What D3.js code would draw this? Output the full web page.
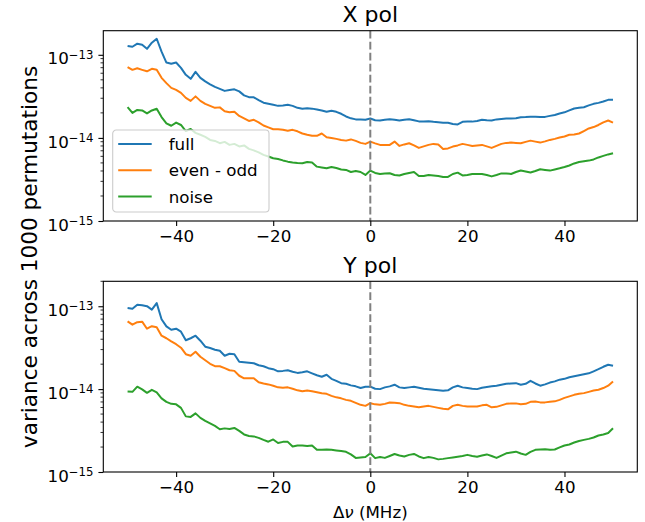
<!DOCTYPE html>
<meta charset="utf-8">
<style>
body { margin: 0; background: #fff; }
svg { font-family: "DejaVu Sans", sans-serif; }
.line { fill: none; stroke-width: 2px; stroke-linejoin: round; }
.zero { stroke: #808080; stroke-width: 2px; stroke-dasharray: 7.7,3.3; }
.frame { fill: none; stroke: #000; stroke-width: 1.1px; }
</style>
<body>
<script src="https://d3js.org/d3.v7.min.js"></script>
<script>
// channel offset from band centre, MHz
var freq = d3.range(-50, 51);

// variance across 1000 permutations, in units of 1e-15
var xFull = [128, 125, 136, 132, 118, 140, 156, 109, 80.7, 77.9,
  80.7, 69.7, 57.4, 51.4, 62.4, 52.8, 47.9, 44.2, 41.1, 38.9,
  36.8, 37.8, 38.4, 36.3, 32.5, 30.9, 30.8, 28.5, 26.5, 25.7,
  25.0, 24.3, 24.6, 25.0, 24.3, 23.0, 22.4, 22.8, 22.5, 22.0,
  21.4, 20.6, 21.2, 20.6, 19.5, 18.1, 17.2, 16.7, 16.7, 16.5,
  17.1,
  16.3, 16.2, 16.5, 16.8, 16.5, 16.2, 16.5, 16.8, 16.3, 15.8,
  15.8, 15.9, 15.6, 15.4, 15.2, 15.2, 14.7, 14.5, 15.6, 15.7,
  15.7, 16.0, 16.5, 16.3, 16.2, 16.7, 16.9, 17.1, 17.1, 17.2,
  17.7, 17.8, 18.0, 18.0, 17.8, 17.9, 18.4, 18.9, 19.7, 20.3,
  21.4, 22.6, 23.0, 23.4, 24.6, 25.7, 26.4, 27.4, 28.7, 28.7];
var xEvenOdd = [71.1, 65.9, 68.8, 65.9, 63.3, 67.8, 65.9, 52.8, 45.6, 40.0,
  37.8, 34.8, 30.3, 27.9, 31.6, 27.9, 25.7, 24.3, 23.0, 23.3,
  20.9, 20.3, 20.7, 18.4, 17.2, 16.0, 16.5, 15.4, 14.1, 13.4,
  12.7, 12.7, 12.5, 12.2, 12.5, 12.0, 11.3, 10.9, 10.6, 10.6,
  11.3, 10.2, 10.0, 9.73, 9.46, 9.27, 9.59, 9.20, 8.71, 8.47,
  9.02,
  8.59, 8.24, 8.24, 8.24, 9.02, 8.01, 8.35, 8.63, 8.12, 7.58,
  7.90, 8.24, 8.47, 8.35, 7.37, 7.47, 7.86, 8.12, 8.47, 8.24,
  8.01, 8.12, 8.24, 7.90, 7.58, 8.01, 8.47, 8.71, 8.78, 8.71,
  8.63, 8.95, 9.27, 9.02, 8.78, 9.08, 9.46, 9.73, 10.1, 10.4,
  10.9, 11.0, 11.3, 12.1, 13.0, 13.5, 14.3, 15.4, 16.2, 15.3];
var xNoise = [23.4, 20.0, 21.7, 21.4, 19.7, 21.4, 22.4, 17.8, 15.0, 14.0,
  15.3, 14.3, 12.1, 12.8, 11.5, 10.9, 10.3, 9.46, 9.20, 8.63,
  8.95, 8.24, 8.47, 7.90, 8.12, 7.37, 7.07, 6.69, 6.24, 5.98,
  5.69, 5.58, 5.36, 5.18, 5.07, 5.00, 4.96, 5.14, 5.07, 4.51,
  4.41, 4.31, 4.47, 4.35, 4.17, 4.12, 3.89, 4.00, 3.89, 3.58,
  4.04,
  3.79, 3.68, 3.74, 3.76, 3.58, 3.53, 3.68, 3.79, 3.89, 3.48,
  3.48, 3.58, 3.53, 3.48, 3.39, 3.39, 3.68, 3.82, 3.53, 3.58,
  3.68, 3.68, 3.68, 3.58, 3.44, 3.58, 3.74, 3.74, 3.68, 3.89,
  4.06, 3.95, 3.84, 4.00, 4.20, 4.12, 4.04, 4.17, 4.31, 4.47,
  4.66, 4.93, 5.14, 5.24, 5.33, 5.51, 5.82, 6.07, 6.33, 6.54];

var yFull = [95.3, 93.5, 104.5, 103.1, 100.2, 90.9, 109.0, 69.8, 57.1, 52.1,
  53.6, 49.3, 38.9, 41.1, 44.1, 38.4, 32.5, 31.3, 29.9, 29.0,
  25.3, 26.7, 26.4, 21.4, 21.1, 20.8, 20.5, 19.4, 18.9, 17.9,
  17.4, 16.4, 16.6, 16.9, 16.2, 15.7, 16.0, 16.4, 15.5, 14.7,
  14.1, 14.9, 13.3, 12.6, 11.8, 11.6, 11.1, 10.8, 10.3, 10.7,
  10.7,
  10.1, 10.0, 10.5, 10.8, 11.3, 10.5, 10.3, 10.5, 10.7, 10.4,
  10.1, 9.94, 9.81, 9.67, 9.54, 9.67, 10.5, 11.0, 10.5, 10.3,
  10.1, 10.0, 10.4, 10.6, 10.8, 11.0, 11.3, 11.6, 11.7, 11.8,
  11.3, 11.6, 12.6, 11.7, 11.0, 11.4, 12.0, 12.4, 13.0, 13.3,
  13.9, 14.3, 14.7, 15.1, 15.5, 16.4, 17.4, 18.6, 19.7, 19.1];
var yEvenOdd = [65.6, 59.9, 64.2, 65.2, 53.6, 57.5, 55.9, 44.1, 41.1, 37.6,
  34.8, 31.6, 26.4, 25.3, 28.2, 24.6, 22.3, 20.2, 18.9, 18.9,
  17.9, 16.9, 16.6, 14.5, 13.5, 13.5, 13.5, 12.1, 11.7, 11.4,
  11.0, 10.5, 10.4, 10.5, 10.1, 9.67, 9.40, 9.62, 9.40, 9.15,
  8.90, 8.77, 8.30, 7.96, 7.74, 7.42, 7.22, 6.83, 6.46, 6.28,
  6.77,
  6.55, 6.46, 6.64, 6.89, 6.83, 6.77, 6.46, 6.28, 6.19, 6.06,
  6.19, 6.28, 6.11, 5.94, 5.78, 5.70, 6.28, 6.46, 6.28, 6.16,
  6.19, 6.16, 6.37, 6.46, 6.03, 6.11, 6.37, 6.64, 6.73, 6.73,
  6.55, 6.64, 7.02, 7.08, 6.92, 6.92, 7.02, 7.12, 7.42, 7.85,
  8.18, 8.53, 8.77, 8.95, 9.27, 9.62, 9.81, 10.3, 11.0, 12.4];
var yNoise = [9.35, 9.27, 10.7, 9.94, 9.02, 9.81, 9.15, 7.74, 7.02, 6.64,
  6.55, 5.94, 4.69, 4.62, 5.10, 4.50, 4.14, 3.86, 3.60, 3.28,
  3.36, 3.31, 3.40, 3.13, 2.84, 2.72, 2.69, 2.58, 2.44, 2.32,
  2.47, 2.24, 2.31, 2.31, 2.03, 2.09, 2.09, 2.06, 2.09, 1.85,
  1.85, 1.87, 1.85, 1.82, 1.79, 1.75, 1.63, 1.48, 1.50, 1.52,
  1.68,
  1.47, 1.52, 1.48, 1.56, 1.65, 1.58, 1.54, 1.61, 1.65, 1.54,
  1.47, 1.52, 1.48, 1.42, 1.44, 1.47, 1.50, 1.53, 1.56, 1.61,
  1.56, 1.53, 1.58, 1.63, 1.56, 1.48, 1.58, 1.68, 1.72, 1.76,
  1.67, 1.61, 1.75, 1.85, 1.87, 1.88, 1.85, 1.87, 1.98, 2.09,
  2.15, 2.27, 2.37, 2.44, 2.51, 2.61, 2.76, 2.84, 2.96, 3.38];

var UNIT = 1e-15;
var names = ["full", "even - odd", "noise"];
var colors = ["#1f77b4", "#ff7f0e", "#2ca02c"];
var xTicks = [-40, -20, 0, 20, 40];
var yTicks = [1e-15, 1e-14, 1e-13];

var W = 645, H = 522;
var svg = d3.select("body").append("svg").attr("width", W).attr("height", H);

var x = d3.scaleLinear().domain([-55, 55]).range([103.3, 637.3]);

var panels = [
  {title: "X pol", top: 30.7, bottom: 221, ymax: 1.95e-13, series: [xFull, xEvenOdd, xNoise], legend: true},
  {title: "Y pol", top: 281.3, bottom: 472, ymax: 2.0e-13, series: [yFull, yEvenOdd, yNoise], legend: false}
];

panels.forEach(function(p) {
  var y = d3.scaleLog().domain([1e-15, p.ymax]).range([p.bottom, p.top]);
  var g = svg.append("g");

  var line = d3.line()
    .x(function(d, i) { return x(freq[i]); })
    .y(function(d) { return y(d * UNIT); });

  // data lines
  p.series.forEach(function(s, k) {
    g.append("path").attr("class", "line")
      .attr("stroke", colors[k])
      .attr("d", line(s));
  });

  // band centre marker
  g.append("line").attr("class", "zero")
    .attr("x1", x(0)).attr("x2", x(0))
    .attr("y1", p.top).attr("y2", p.bottom);

  // x axis
  var gx = g.append("g")
    .attr("transform", "translate(0," + p.bottom + ")")
    .call(d3.axisBottom(x).tickValues(xTicks).tickSize(4.9).tickPadding(4.4));
  gx.select(".domain").remove();
  gx.selectAll(".tick line").attr("stroke", "#000").attr("stroke-width", 1.1);
  gx.selectAll(".tick text").attr("font-size", "16.7px").attr("font-family", "DejaVu Sans").attr("fill", "#000");

  // y axis, major
  var gy = g.append("g")
    .attr("transform", "translate(" + x.range()[0] + ",0)")
    .call(d3.axisLeft(y).tickValues(yTicks).tickSize(4.9).tickPadding(4.9));
  gy.select(".domain").remove();
  gy.selectAll(".tick line").attr("stroke", "#000").attr("stroke-width", 1.1);
  gy.selectAll(".tick text").text(null)
    .attr("font-size", "16.7px").attr("font-family", "DejaVu Sans").attr("fill", "#000")
    .attr("dy", "0.55em")
    .each(function(d) {
      var t = d3.select(this);
      t.append("tspan").text("10");
      t.append("tspan").attr("dy", "-0.5em").attr("font-size", "11.7px")
        .text("\u2212" + Math.round(-Math.log10(d)));
    });

  // y axis, minor
  var minor = [];
  [-15, -14, -13].forEach(function(e) {
    for (var m = 2; m <= 9; m++) {
      var v = m * Math.pow(10, e);
      if (v <= p.ymax) minor.push(v);
    }
  });
  g.selectAll(null).data(minor).enter().append("line")
    .attr("x1", x.range()[0] - 2.8).attr("x2", x.range()[0])
    .attr("y1", function(d) { return y(d); }).attr("y2", function(d) { return y(d); })
    .attr("stroke", "#000").attr("stroke-width", 0.8);

  // frame
  g.append("rect").attr("class", "frame")
    .attr("x", x.range()[0]).attr("y", p.top)
    .attr("width", x.range()[1] - x.range()[0]).attr("height", p.bottom - p.top);

  // title
  g.append("text")
    .attr("x", x(0)).attr("y", p.top - 8.5)
    .attr("text-anchor", "middle").attr("font-size", "22px")
    .text(p.title);

  if (p.legend) {
    var lg = g.append("g").attr("transform", "translate(112.7,130)");
    lg.append("rect")
      .attr("width", 156.3).attr("height", 82).attr("rx", 3.5)
      .attr("fill", "#fff").attr("fill-opacity", 0.8)
      .attr("stroke", "#cccccc").attr("stroke-width", 1.1);
    names.forEach(function(n, k) {
      var cy = 14 + k * 26.3;
      lg.append("line")
        .attr("x1", 5.5).attr("x2", 39)
        .attr("y1", cy).attr("y2", cy)
        .attr("stroke", colors[k]).attr("stroke-width", 2);
      lg.append("text")
        .attr("x", 56).attr("y", cy + 6)
        .attr("font-size", "16.7px")
        .text(n);
    });
  }
});

// axis labels
var xl = svg.append("text")
  .attr("x", x(0)).attr("y", 518)
  .attr("text-anchor", "middle").attr("font-size", "16.7px");
xl.append("tspan").text("\u0394");
xl.append("tspan").attr("font-style", "italic").text("\u03bd");
xl.append("tspan").text(" (MHz)");

svg.append("text")
  .attr("transform", "translate(37,257) rotate(-90)")
  .attr("text-anchor", "middle").attr("font-size", "21.6px")
  .text("variance across 1000 permutations");
</script>
</body>
